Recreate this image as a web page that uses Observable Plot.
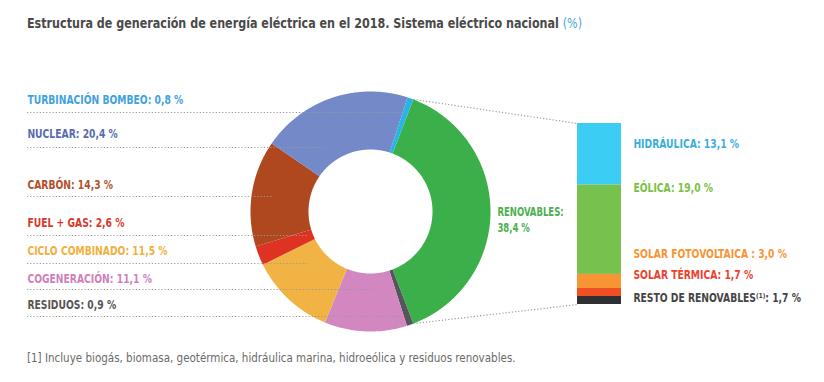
<!DOCTYPE html>
<html><head><meta charset="utf-8">
<script src="https://cdn.jsdelivr.net/npm/d3@7"></script>
<script src="https://cdn.jsdelivr.net/npm/@observablehq/plot@0.6"></script>
<style>
body{margin:0;background:#fff;}
#wrap{position:relative;width:824px;height:382px;font-family:"Liberation Sans Narrow","DejaVu Sans Condensed","Roboto",sans-serif;}
#title{position:absolute;left:27px;top:15px;font-size:14px;line-height:17px;color:#4a4a4a;font-weight:bold;white-space:nowrap;transform:scaleX(0.885);transform-origin:0 0;}
#title span{color:#3fa9e0;font-weight:normal;}
#chart{position:absolute;left:0;top:44px;}
#foot{position:absolute;left:27px;top:351px;font-size:11.5px;line-height:14px;color:#6a6a6a;white-space:nowrap;}
</style></head><body>
<div id="wrap">
<div id="title">Estructura de generación de energía eléctrica en el 2018. Sistema eléctrico nacional <span>(%)</span></div>
<div id="chart"></div>
<div id="foot">[1] Incluye biogás, biomasa, geotérmica, hidráulica marina, hidroeólica y residuos renovables.</div>
</div>
<script>
// ---- data ----
const sources = ["RENOVABLES", "RESIDUOS", "COGENERACIÓN", "CICLO COMBINADO", "FUEL + GAS", "CARBÓN", "NUCLEAR", "TURBINACIÓN BOMBEO"];
const shares = [38.4, 0.9, 11.1, 11.5, 2.6, 14.3, 20.4, 0.8];
const sliceColors = ["#3bb04a", "#54565c", "#d387c0", "#f2b345", "#de3323", "#b0481f", "#7389c8", "#2ab3e6"];
const labelColors = ["#4caf50", "#555555", "#cf7fbb", "#f0b040", "#d9382b", "#b3502b", "#5a6bb0", "#3fa2dc"];

const renewables = ["HIDRÁULICA", "EÓLICA", "SOLAR FOTOVOLTAICA ", "SOLAR TÉRMICA", "RESTO DE RENOVABLES⁽¹⁾"];
const renewableShares = [13.1, 19.0, 3.0, 1.7, 1.7];
const renewableColors = ["#3ccdf5", "#77c14e", "#f79433", "#f04e23", "#2f3033"];
const renewableLabelColors = ["#3aaee0", "#7bbf45", "#f79433", "#ee4030", "#444444"];

// ---- layout (page pixels) ----
const cx = 370, cy = 211, rOuter = 120, rInner = 62;
const barX1 = 577, barX2 = 621, barTop = 123, barBottom = 304;
const leftOrder = ["TURBINACIÓN BOMBEO", "NUCLEAR", "CARBÓN", "FUEL + GAS", "CICLO COMBINADO", "COGENERACIÓN", "RESIDUOS"];
const leftTextY = [99, 133, 184, 222, 250, 278, 304];
const leftRuleY = [112, 147, 196, 235, 263, 289, 316];
const leftRuleEnd = [405, 327, 273, 307, 309, 375, 400];
const rightTextY = [143, 187, 253, 274, 297];
const leftX = 27, rightX = 633, renX = 497;

const fmt = v => v.toFixed(1).replace(".", ",") + " %";

// donut slices: renewables centered on the right side
const total = d3.sum(shares);
const a0 = Math.PI / 2 - (shares[0] / total) * Math.PI;
const arcs = d3.pie().sort(null).startAngle(a0).endAngle(a0 + 2 * Math.PI)(shares);
const pts = [];
arcs.forEach((a, i) => {
  const n = Math.max(2, Math.ceil((a.endAngle - a.startAngle) / 0.01));
  for (let k = 0; k <= n; k++) {
    const t = a.startAngle + (a.endAngle - a.startAngle) * k / n;
    pts.push({key: sources[i], color: sliceColors[i], x: cx + rOuter * Math.sin(t), y: cy - rOuter * Math.cos(t)});
  }
  for (let k = n; k >= 0; k--) {
    const t = a.startAngle + (a.endAngle - a.startAngle) * k / n;
    pts.push({key: sources[i], color: sliceColors[i], x: cx + rInner * Math.sin(t), y: cy - rInner * Math.cos(t)});
  }
});

// stacked renewables bar
const renTotal = d3.sum(renewableShares);
const k = (barBottom - barTop) / renTotal;
let cum = 0;
const bars = renewables.map((name, i) => {
  const y1 = barTop + cum * k; cum += renewableShares[i];
  return {name, color: renewableColors[i], y1, y2: barTop + cum * k};
});

// connectors from renewables slice edges to bar
const ra = arcs[0];
const links = [
  {x1: cx + rOuter * Math.sin(ra.startAngle), y1: cy - rOuter * Math.cos(ra.startAngle), x2: barX1, y2: bars[0].y1},
  {x1: cx + rOuter * Math.sin(ra.endAngle), y1: cy - rOuter * Math.cos(ra.endAngle), x2: barX1, y2: bars[bars.length - 1].y2}
];

const leftLabels = leftOrder.map((name, j) => {
  const i = sources.indexOf(name);
  return {text: name + ": " + fmt(shares[i]), color: labelColors[i], y: leftTextY[j], ry: leftRuleY[j], rx2: leftRuleEnd[j]};
});
const rightLabels = renewables.map((name, i) => ({text: name + ": " + fmt(renewableShares[i]), color: renewableLabelColors[i], y: rightTextY[i]}));
const renLabel = [{text: sources[0] + ":", y: 212}, {text: fmt(shares[0]), y: 228}];

const font = "'Liberation Sans Narrow','DejaVu Sans Condensed',Roboto,sans-serif";
const dots = {stroke: "#9a9a9a", strokeWidth: 1.2, strokeDasharray: "1.2,2", strokeLinecap: "butt"};
const lab = {textAnchor: "start", lineAnchor: "middle", fontSize: 12.5, fontWeight: "bold"};

const chart = Plot.plot({
  width: 824, height: 300, margin: 0,
  x: {domain: [0, 824], range: [0, 824], axis: null},
  y: {domain: [44, 344], range: [0, 300], axis: null},
  color: {type: "identity"},
  style: {fontFamily: font, background: "transparent"},
  marks: [
    Plot.line(pts, {x: "x", y: "y", z: "key", fill: "color", stroke: "none", curve: "linear"}),
    Plot.ruleY(leftLabels, {y: "ry", x1: leftX, x2: "rx2", ...dots}),
    Plot.link(links, {x1: "x1", y1: "y1", x2: "x2", y2: "y2", ...dots}),
    Plot.rect(bars, {x1: barX1, x2: barX2, y1: "y1", y2: "y2", fill: "color"}),
    Plot.text(leftLabels, {x: leftX, y: "y", text: "text", fill: "color", ...lab}),
    Plot.text(rightLabels, {x: rightX, y: "y", text: "text", fill: "color", ...lab}),
    Plot.text(renLabel, {x: renX, y: "y", text: "text", fill: labelColors[0], ...lab, fontSize: 12})
  ]
});
// condense the three label groups horizontally around their anchors (condensed typeface look)
const textGroups = chart.querySelectorAll('g[aria-label="text"]');
[[leftX, 0.82], [rightX, 0.82], [renX, 0.79]].forEach(([x0, s], i) => {
  const g = textGroups[i];
  if (!g) return;
  const prev = g.getAttribute("transform") || "";
  g.setAttribute("transform", `translate(${x0 * (1 - s)},0) scale(${s},1) ${prev}`);
});
document.getElementById("chart").appendChild(chart);
</script>
</body></html>
